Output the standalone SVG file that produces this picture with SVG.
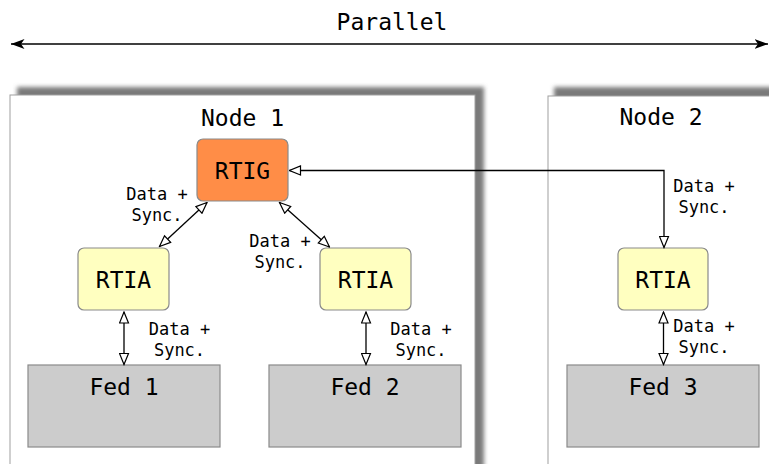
<svg xmlns="http://www.w3.org/2000/svg" width="769" height="464" viewBox="0 0 769 464">
  <defs>
    <style>
      text { font-family: "DejaVu Sans Mono", "Liberation Mono", monospace; fill: #000; text-anchor: middle; }
      .big { font-size: 23px; }
      .lbl { font-size: 17px; }
      .container { fill: #fff; stroke: #a0a0a0; stroke-width: 1; }
      .shadow { fill: #7a7a7a; filter: url(#blur); }
      .rtig { fill: #ff8d47; stroke: #8a8a8a; stroke-width: 1.2; }
      .rtia { fill: #ffffc0; stroke: #8a8a8a; stroke-width: 1.2; }
      .fed { fill: #cccccc; stroke: #8a8a8a; stroke-width: 1.2; }
      .conn { fill: none; stroke: #000; stroke-width: 1.3; }
      .open { marker-start: url(#openArrow); marker-end: url(#openArrow); }
    </style>
    <filter id="blur" x="-5%" y="-5%" width="110%" height="110%">
      <feGaussianBlur stdDeviation="2"/>
    </filter>
    <marker id="openArrow" markerUnits="userSpaceOnUse" viewBox="0 0 13 11" refX="12" refY="5.5" markerWidth="13" markerHeight="11" orient="auto-start-reverse">
      <path d="M1,1 L12,5.5 L1,10 Z" fill="#fff" stroke="#000" stroke-width="1.2"/>
    </marker>
    <marker id="solidArrow" markerUnits="userSpaceOnUse" viewBox="0 0 14 11" refX="13.5" refY="5.5" markerWidth="14" markerHeight="11" orient="auto-start-reverse">
      <path d="M13.5,5.5 L0,0.5 L3.5,5.5 L0,10.5 Z" fill="#000"/>
    </marker>
  </defs>

  <g id="parallel">
    <text class="big" x="392" y="30">Parallel</text>
    <line x1="11" y1="44" x2="768" y2="44" stroke="#000" stroke-width="1.5" marker-start="url(#solidArrow)" marker-end="url(#solidArrow)"/>
  </g>

  <g id="node1">
    <rect class="shadow" x="17" y="87" width="467" height="420"/>
    <rect class="container" x="10" y="95" width="465" height="420"/>
    <text class="big" x="242.5" y="125.5">Node 1</text>
  </g>

  <g id="node2">
    <rect class="shadow" x="554" y="87" width="260" height="420"/>
    <rect class="container" x="548" y="96" width="260" height="420"/>
    <text class="big" x="661" y="125">Node 2</text>
  </g>

  <g id="rtig">
    <rect class="rtig" x="197" y="139" width="91" height="62" rx="6"/>
    <text class="big" x="242.5" y="178.5">RTIG</text>
  </g>

  <g id="rtia1">
    <rect class="rtia" x="78" y="248" width="91" height="62" rx="6"/>
    <text class="big" x="123.5" y="287.5">RTIA</text>
  </g>

  <g id="rtia2">
    <rect class="rtia" x="320" y="248" width="91" height="62" rx="6"/>
    <text class="big" x="365.5" y="287.5">RTIA</text>
  </g>

  <g id="rtia3">
    <rect class="rtia" x="618" y="248" width="90" height="62" rx="6"/>
    <text class="big" x="663" y="287.5">RTIA</text>
  </g>

  <g id="fed1">
    <rect class="fed" x="28" y="365" width="192" height="82"/>
    <text class="big" x="124" y="395">Fed 1</text>
  </g>

  <g id="fed2">
    <rect class="fed" x="269" y="365" width="192" height="82"/>
    <text class="big" x="365" y="395">Fed 2</text>
  </g>

  <g id="fed3">
    <rect class="fed" x="567" y="365" width="192" height="82"/>
    <text class="big" x="663" y="395">Fed 3</text>
  </g>

  <g id="connectors">
    <line class="conn open" x1="207" y1="202.5" x2="159.5" y2="246.5"/>
    <line class="conn open" x1="279.5" y1="202.5" x2="329.5" y2="247"/>
    <path class="conn open" d="M664,247.5 V170.5 H289.5"/>
    <line class="conn open" x1="124" y1="312" x2="124" y2="364.5"/>
    <line class="conn open" x1="366" y1="312" x2="366" y2="364.5"/>
    <line class="conn open" x1="663.5" y1="312" x2="663.5" y2="364.5"/>

    <text class="lbl" x="157" y="200">Data +</text>
    <text class="lbl" x="157" y="221">Sync.</text>
    <text class="lbl" x="280" y="247">Data +</text>
    <text class="lbl" x="280" y="268">Sync.</text>
    <text class="lbl" x="704" y="192">Data +</text>
    <text class="lbl" x="704" y="213">Sync.</text>
    <text class="lbl" x="179.5" y="335">Data +</text>
    <text class="lbl" x="179.5" y="356">Sync.</text>
    <text class="lbl" x="421" y="335">Data +</text>
    <text class="lbl" x="421" y="356">Sync.</text>
    <text class="lbl" x="704" y="332">Data +</text>
    <text class="lbl" x="704" y="353">Sync.</text>
  </g>
</svg>
